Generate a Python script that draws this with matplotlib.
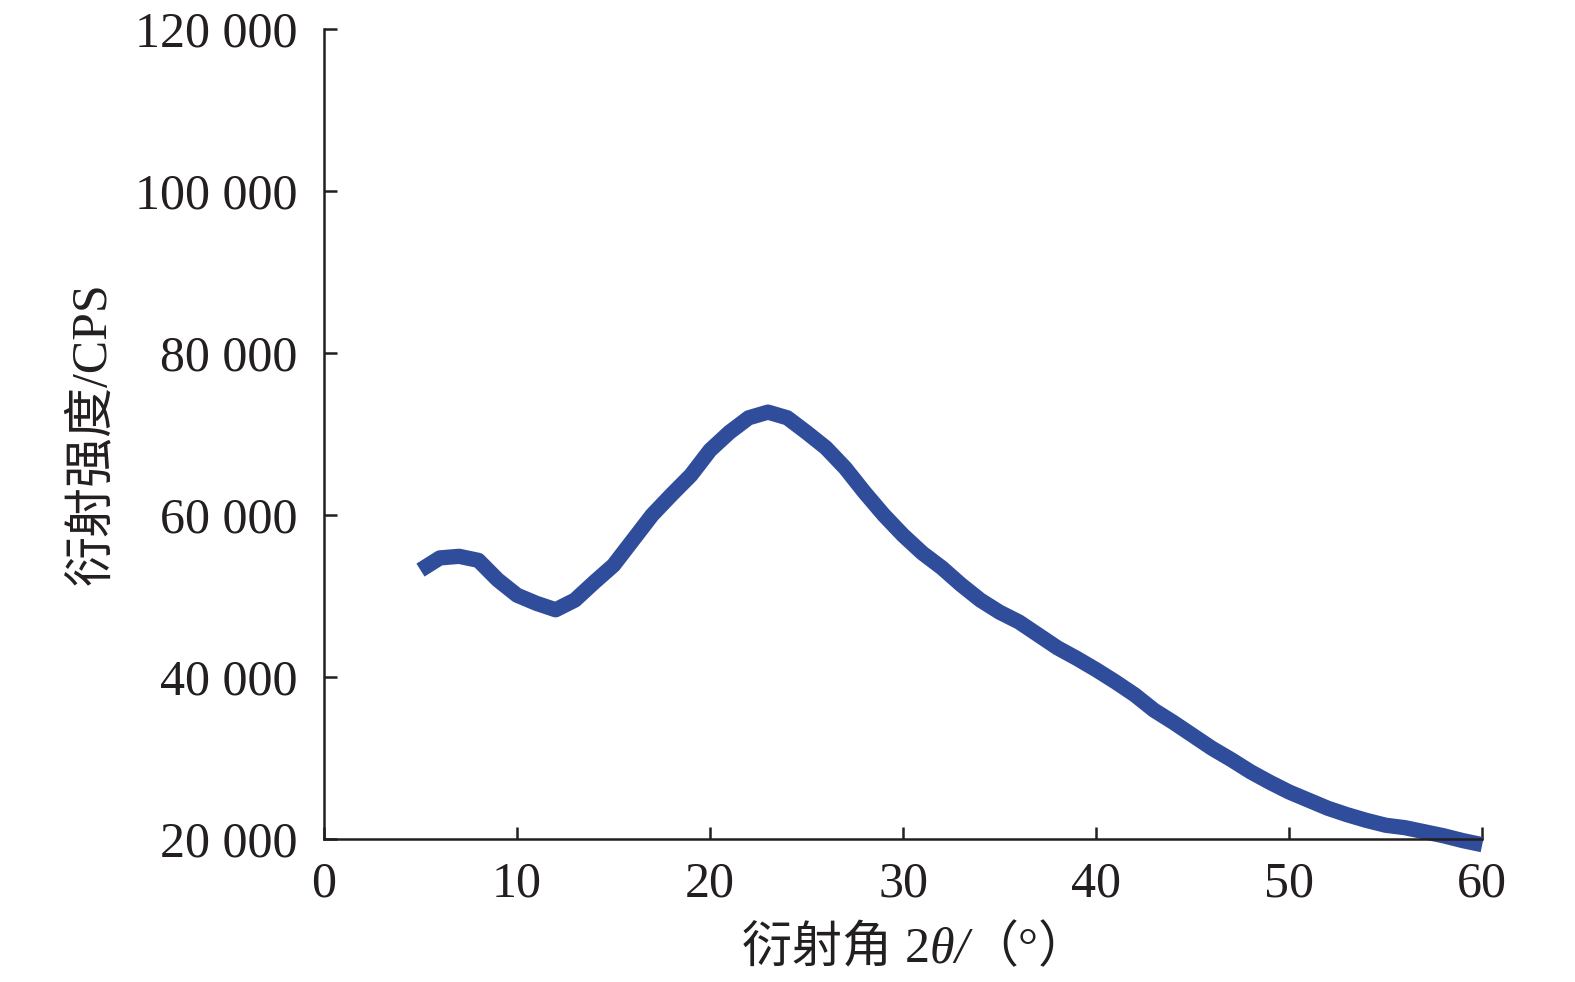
import numpy as np
import matplotlib.pyplot as plt
from matplotlib.ticker import FuncFormatter

plt.rcParams['font.family'] = ['Liberation Serif', 'Noto Sans CJK SC']

# diffraction angle (deg) and intensity (CPS)
two_theta = [5, 6, 7, 8, 9, 10, 11, 12, 13, 14, 15, 16, 17, 18, 19, 20,
             21, 22, 23, 24, 25, 26, 27, 28, 29, 30, 31, 32, 33, 34, 35, 36,
             37, 38, 39, 40, 41, 42, 43, 44, 45, 46, 47, 48, 49, 50, 51, 52,
             53, 54, 55, 56, 57, 58, 59, 60]
intensity = [53200, 54700, 54900, 54400, 52000, 50100, 49100, 48300, 49500,
             51700, 53800, 56900, 60000, 62500, 64900, 68000, 70200, 72000,
             72700, 72000, 70200, 68300, 65800, 62800, 60000, 57500, 55300,
             53500, 51400, 49500, 48000, 46800, 45200, 43600, 42300, 40900,
             39400, 37800, 35900, 34400, 32800, 31200, 29800, 28300, 27000,
             25800, 24800, 23800, 23000, 22300, 21700, 21400, 20900, 20400,
             19800, 19300]

x_ticks = [0, 10, 20, 30, 40, 50, 60]
y_ticks = [20000, 40000, 60000, 80000, 100000, 120000]

dark = '#231f20'

fig = plt.figure(figsize=(15.75, 9.82), dpi=100)
ax = fig.add_axes([0.2057, 0.1456, 0.7354, 0.8249])

ax.plot(two_theta, intensity, color='#304d9c', lw=11,
        solid_joinstyle='round', solid_capstyle='butt', clip_on=False)

ax.set_xlim(0, 60)
ax.set_ylim(20000, 120000)
ax.set_xticks(x_ticks)
ax.set_yticks(y_ticks)
ax.yaxis.set_major_formatter(FuncFormatter(lambda v, p: '{:,}'.format(int(v)).replace(',', ' ')))

for s in ['top', 'right']:
    ax.spines[s].set_visible(False)
for s in ['left', 'bottom']:
    ax.spines[s].set_linewidth(1.8)
    ax.spines[s].set_color(dark)

ax.tick_params(axis='both', direction='in', length=9, width=1.8,
               labelsize=36, colors=dark)
ax.tick_params(axis='y', pad=19)
ax.tick_params(axis='x', pad=16)

ax.set_ylabel('衍射强度/CPS', fontsize=36, color=dark, labelpad=14)

# x label built from pieces so theta can be italic
pieces = [('衍射角 ', 'normal'), ('2', 'normal'), ('θ', 'italic'), ('/', 'italic'), ('（°）', 'normal')]
texts = [fig.text(0, 0.02, s, fontsize=36, style=st, color=dark,
                  ha='left', va='baseline') for s, st in pieces]
fig.canvas.draw()
r = fig.canvas.get_renderer()
widths = [t.get_window_extent(r).width for t in texts]
W = fig.get_figwidth() * fig.dpi
x0 = 915 - sum(widths) / 2
for t, w in zip(texts, widths):
    t.set_x(x0 / W)
    x0 += w

fig.savefig('out.png', dpi=100)
